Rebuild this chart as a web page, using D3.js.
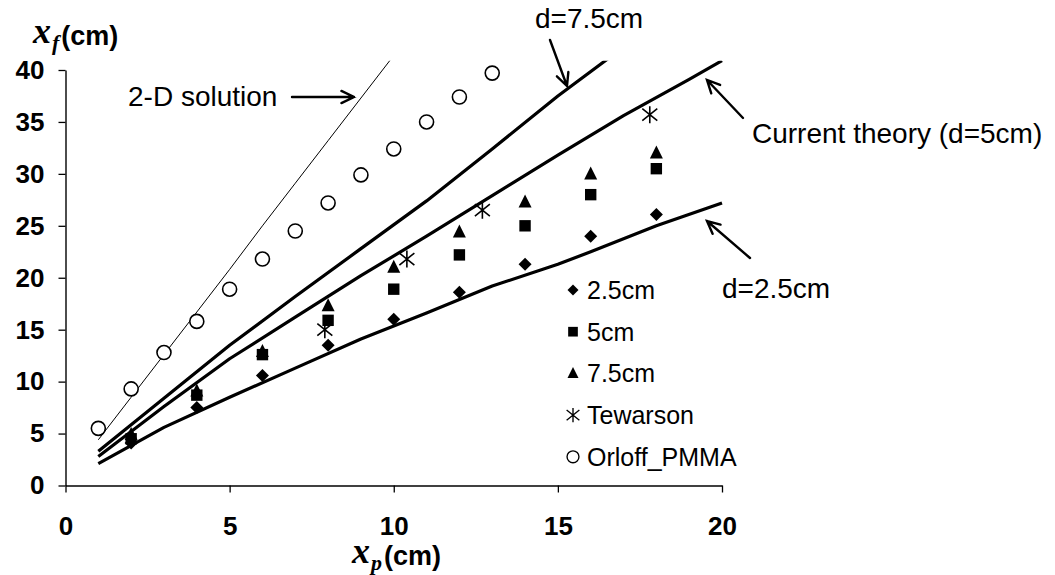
<!DOCTYPE html>
<html>
<head>
<meta charset="utf-8">
<script src="https://cdn.jsdelivr.net/npm/d3@7"></script>
<style>
body { margin: 0; background: #fff; }
text { font-family: "Liberation Sans", Arial, sans-serif; fill: #000; }
</style>
</head>
<body>
<div id="chart"></div>
<script>
// ---- data ----
// experiments (flame height vs pyrolysis height), spacing d
const expX = [2, 4, 6, 8, 10, 12, 14, 16, 18];
const exp25 = [4.1, 7.5, 10.6, 13.5, 16.0, 18.6, 21.3, 24.0, 26.1];
const exp50 = [4.5, 8.7, 12.6, 15.9, 18.9, 22.2, 25.0, 28.0, 30.5];
const exp75 = [4.9, 9.1, 12.9, 17.3, 21.0, 24.4, 27.3, 30.0, 32.0];
const tewX = [7.9, 10.4, 12.7, 17.8];
const tewY = [15.0, 21.8, 26.5, 35.7];
const orlX = [1, 2, 3, 4, 5, 6, 7, 8, 9, 10, 11, 12, 13];
const orlY = [5.5, 9.3, 12.8, 15.8, 18.9, 21.8, 24.5, 27.2, 29.9, 32.4, 35.0, 37.4, 39.7];

// theory curves
const th25X = [1, 3, 5, 7, 9, 11, 13, 15, 16, 18, 20];
const th25Y = [2.1, 5.6, 8.5, 11.3, 14.1, 16.6, 19.2, 21.3, 22.5, 25.0, 27.2];
const th50X = [1, 3, 5, 7, 9, 11, 13, 15, 17, 19, 20];
const th50Y = [2.8, 7.6, 12.2, 16.2, 20.2, 24.0, 27.9, 31.8, 35.6, 39.1, 40.9];
const th75X = [1, 3, 5, 7, 9, 11, 13, 15, 17];
const th75Y = [3.3, 8.4, 13.5, 18.2, 22.8, 27.4, 32.4, 37.5, 42.2];
const twoDX = [1, 2, 3, 4, 5, 6, 7, 8, 9, 10];
const twoDY = [4.4, 8.5, 12.6, 16.7, 20.8, 25.0, 29.1, 33.2, 37.3, 41.4];

const xTicks = [0, 5, 10, 15, 20];
const yTicks = [0, 5, 10, 15, 20, 25, 30, 35, 40];
const legendNames = ["2.5cm", "5cm", "7.5cm", "Tewarson", "Orloff_PMMA"];
const legendShapes = ["diamond", "square", "triangle", "asterisk", "circle"];

// ---- layout ----
const W = 1055, H = 575;
const x = d3.scaleLinear().domain([0, 20]).range([65.5, 722]);
const y = d3.scaleLinear().domain([0, 40]).range([485.5, 70]);

const svg = d3.select("#chart").append("svg")
    .attr("width", W).attr("height", H);

// clip area for the lines (plot area goes a bit above 40)
svg.append("clipPath").attr("id", "plotclip")
    .append("rect")
    .attr("x", x(0)).attr("y", y(40.9))
    .attr("width", x(20) - x(0) + 4).attr("height", y(0) - y(40.9));

// axes
const axX = svg.append("g")
    .attr("transform", `translate(0,${y(0)})`)
    .call(d3.axisBottom(x).tickValues(xTicks).tickSize(7).tickPadding(24).tickSizeOuter(0));
const axY = svg.append("g")
    .attr("transform", `translate(${x(0)},0)`)
    .call(d3.axisLeft(y).tickValues(yTicks).tickSize(7).tickPadding(14).tickSizeOuter(0));

[axX, axY].forEach(a => {
    a.select(".domain").attr("stroke", "#000").attr("stroke-width", 1.4);
    a.selectAll(".tick line").attr("stroke", "#000").attr("stroke-width", 1.3);
    a.selectAll(".tick text")
        .style("font-family", '"Liberation Sans", Arial, sans-serif')
        .attr("font-size", 26).attr("font-weight", "bold").attr("fill", "#000");
});

// lines
const plot = svg.append("g").attr("clip-path", "url(#plotclip)");
const lineGen = d3.line().x(d => x(d[0])).y(d => y(d[1]));
const zip = (a, b) => a.map((v, i) => [v, b[i]]);

plot.append("path").attr("d", lineGen(zip(twoDX, twoDY)))
    .attr("fill", "none").attr("stroke", "#000").attr("stroke-width", 1);
[[th25X, th25Y], [th50X, th50Y], [th75X, th75Y]].forEach(s => {
    plot.append("path").attr("d", lineGen(zip(s[0], s[1])))
        .attr("fill", "none").attr("stroke", "#000").attr("stroke-width", 3.2)
        .attr("stroke-linejoin", "round");
});

// markers
function marker(g, shape, cx, cy, k) {
    k = k || 1;
    const t = `translate(${cx},${cy}) scale(${k})`;
    if (shape == "diamond") {
        g.append("path").attr("d", "M0,-6.5L6.5,0L0,6.5L-6.5,0Z").attr("transform", t).attr("fill", "#000");
    } else if (shape == "square") {
        g.append("path").attr("d", "M-5.7,-5.7H5.7V5.7H-5.7Z").attr("transform", t).attr("fill", "#000");
    } else if (shape == "triangle") {
        g.append("path").attr("d", "M0,-7.5L6.5,5.5L-6.5,5.5Z").attr("transform", t).attr("fill", "#000");
    } else if (shape == "asterisk") {
        g.append("path").attr("d", "M0,-8.5V8.5M-7.5,-6L7.5,6M-7.5,6L7.5,-6").attr("transform", t)
            .attr("fill", "none").attr("stroke", "#000").attr("stroke-width", 1.6);
    } else {
        g.append("circle").attr("r", 7).attr("transform", t)
            .attr("fill", "#fff").attr("stroke", "#000").attr("stroke-width", 1.6);
    }
}

const pts = svg.append("g");
expX.forEach((v, i) => marker(pts, "diamond", x(v), y(exp25[i])));
expX.forEach((v, i) => marker(pts, "square", x(v), y(exp50[i])));
expX.forEach((v, i) => marker(pts, "triangle", x(v), y(exp75[i])));
tewX.forEach((v, i) => marker(pts, "asterisk", x(v), y(tewY[i])));
orlX.forEach((v, i) => marker(pts, "circle", x(v), y(orlY[i])));

// legend
const leg = svg.append("g").attr("transform", "translate(573,290)");
legendNames.forEach((name, i) => {
    const row = leg.append("g").attr("transform", `translate(0,${i * 41.7})`);
    marker(row, legendShapes[i], 0, 0, 0.85);
    row.append("text").attr("x", 14).attr("y", 0).attr("dy", "0.36em")
        .attr("font-size", 25).text(name);
});

// annotations with arrows
function arrow(x1, y1, x2, y2) {
    const a = Math.atan2(y2 - y1, x2 - x1), L = 14, sp = 0.45;
    const p1 = [x2 - L * Math.cos(a - sp), y2 - L * Math.sin(a - sp)];
    const p2 = [x2 - L * Math.cos(a + sp), y2 - L * Math.sin(a + sp)];
    svg.append("path")
        .attr("d", `M${x1},${y1}L${x2},${y2}M${p1[0]},${p1[1]}L${x2},${y2}L${p2[0]},${p2[1]}`)
        .attr("fill", "none").attr("stroke", "#000").attr("stroke-width", 2.4)
        .attr("stroke-linecap", "round").attr("stroke-linejoin", "miter");
}

svg.append("text").attr("x", 128).attr("y", 106).attr("font-size", 28).text("2-D solution");
arrow(292, 97, 354, 97);
svg.append("text").attr("x", 535).attr("y", 28).attr("font-size", 28).text("d=7.5cm");
arrow(550, 40, 567, 86);
svg.append("text").attr("x", 752).attr("y", 143).attr("font-size", 28).text("Current theory (d=5cm)");
arrow(743, 118, 707, 80);
svg.append("text").attr("x", 722).attr("y", 298).attr("font-size", 28).text("d=2.5cm");
arrow(750, 258, 707, 221);

// axis titles
function axisTitle(tx, ty, sub) {
    const t = svg.append("text").attr("x", tx).attr("y", ty);
    t.append("tspan").style("font-family", '"Liberation Serif", "Times New Roman", serif')
        .attr("font-size", 36).attr("font-weight", "bold").attr("font-style", "italic").text("x");
    t.append("tspan").style("font-family", '"Liberation Serif", "Times New Roman", serif')
        .attr("font-size", 22).attr("font-weight", "bold").attr("font-style", "italic")
        .attr("dx", 1).attr("dy", 7).text(sub);
    t.append("tspan").attr("font-size", 27).attr("font-weight", "bold")
        .attr("dx", 2).attr("dy", -5).text("(cm)");
}
axisTitle(33, 43, "f");
axisTitle(352, 563, "p");
</script>
</body>
</html>
